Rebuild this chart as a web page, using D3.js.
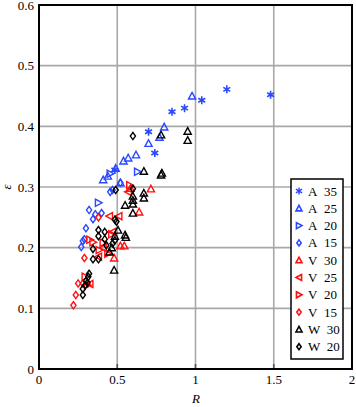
<!DOCTYPE html>
<html>
<head>
<meta charset="utf-8">
<script src="https://cdn.jsdelivr.net/npm/d3@7"></script>
<style>
  body { margin: 0; background: #fff; }
  text { font-family: "Liberation Serif", "DejaVu Serif", serif; }
</style>
</head>
<body>
<svg id="chart" width="356" height="407"></svg>
<script>
// ------------------- data ---------------------------------------------
var xTicks = [0, 0.5, 1, 1.5, 2];
var yTicks = [0, 0.1, 0.2, 0.3, 0.4, 0.5, 0.6];
var xTickLabels = ["0", "0.5", "1", "1.5", "2"];
var yTickLabels = ["0", "0.1", "0.2", "0.3", "0.4", "0.5", "0.6"];

var A35 = [[0.485,0.328],[0.70,0.391],[0.74,0.356],[0.85,0.424],[0.93,0.430],[1.04,0.443],[1.20,0.461],[1.48,0.452]];
var A25 = [[0.978,0.450],[0.80,0.399],[0.77,0.382],[0.70,0.372],[0.62,0.353],[0.57,0.348],[0.54,0.343],[0.49,0.331],[0.44,0.318],[0.41,0.312],[0.52,0.307]];
var A20 = [[0.38,0.274],[0.63,0.325],[0.455,0.322]];
var A15 = [[0.455,0.292],[0.47,0.295],[0.52,0.307],[0.32,0.262],[0.36,0.255],[0.40,0.257],[0.345,0.247],[0.30,0.232],[0.28,0.211],[0.27,0.201],[0.29,0.214]];
var V30 = [[0.715,0.297],[0.64,0.259],[0.545,0.203],[0.52,0.203],[0.48,0.183],[0.585,0.298]];
var V25 = [[0.57,0.292],[0.45,0.252],[0.51,0.252],[0.47,0.226],[0.41,0.2],[0.38,0.185],[0.325,0.14]];
var V20 = [[0.345,0.209],[0.325,0.213],[0.385,0.196],[0.44,0.19],[0.41,0.208],[0.465,0.222],[0.295,0.152],[0.31,0.138],[0.58,0.303]];
var V15 = [[0.38,0.25],[0.29,0.183],[0.22,0.105],[0.235,0.122],[0.25,0.141],[0.28,0.141]];
var W30 = [[0.95,0.392],[0.95,0.377],[0.78,0.386],[0.785,0.323],[0.78,0.32],[0.67,0.326],[0.60,0.272],[0.60,0.278],[0.60,0.285],[0.67,0.29],[0.67,0.282],[0.55,0.27],[0.60,0.257],[0.505,0.229],[0.55,0.221],[0.555,0.217],[0.485,0.219],[0.465,0.2],[0.45,0.193],[0.48,0.163]];
var W20 = [[0.60,0.384],[0.49,0.295],[0.60,0.297],[0.485,0.246],[0.495,0.243],[0.38,0.229],[0.38,0.219],[0.42,0.226],[0.42,0.214],[0.43,0.204],[0.485,0.212],[0.47,0.207],[0.345,0.198],[0.345,0.181],[0.38,0.181],[0.32,0.157],[0.315,0.152],[0.30,0.145],[0.295,0.138],[0.28,0.132],[0.28,0.122],[0.31,0.142]];

var blue = "#2a48ff", red = "#ff1010", black = "#000";

// series in legend order
var series = [
  {name: "A\u00a0\u00a035", data: A35, color: blue,  shape: "star"},
  {name: "A\u00a0\u00a025", data: A25, color: blue,  shape: "up"},
  {name: "A\u00a0\u00a020", data: A20, color: blue,  shape: "right"},
  {name: "A\u00a0\u00a015", data: A15, color: blue,  shape: "diamond"},
  {name: "V\u00a0\u00a030", data: V30, color: red,   shape: "up"},
  {name: "V\u00a0\u00a025", data: V25, color: red,   shape: "left"},
  {name: "V\u00a0\u00a020", data: V20, color: red,   shape: "right"},
  {name: "V\u00a0\u00a015", data: V15, color: red,   shape: "diamond"},
  {name: "W\u00a0\u00a030", data: W30, color: black, shape: "up"},
  {name: "W\u00a0\u00a020", data: W20, color: black, shape: "diamond"}
];

// ------------------- layout ------------------------
var svg = d3.select("#chart");
var plotLeft = 39, plotRight = 352, plotTop = 5, plotBottom = 369;

var x = d3.scaleLinear().domain([0, 2]).range([plotLeft, plotRight]);
var y = d3.scaleLinear().domain([0, 0.6]).range([plotBottom, plotTop]);

function shapePath(shape, s) {
  // s = half size
  if (shape == "up") return "M0," + (-s) + "L" + s + "," + (s*0.85) + "L" + (-s) + "," + (s*0.85) + "Z";
  if (shape == "right") return "M" + (-s*0.85) + "," + (-s) + "L" + s + ",0L" + (-s*0.85) + "," + s + "Z";
  if (shape == "left") return "M" + (s*0.85) + "," + (-s) + "L" + (-s) + ",0L" + (s*0.85) + "," + s + "Z";
  if (shape == "diamond") return "M0," + (-s) + "L" + (s*0.72) + ",0L0," + s + "L" + (-s*0.72) + ",0Z";
  // asterisk
  var p = "";
  [90, 30, 150].forEach(function(a) {
    var r = a * Math.PI / 180;
    var dx = Math.cos(r) * s, dy = Math.sin(r) * s;
    p += "M" + (-dx) + "," + (-dy) + "L" + dx + "," + dy;
  });
  return p;
}

// gridlines
svg.append("g").selectAll("line")
  .data(xTicks.slice(1, -1))
  .enter().append("line")
  .attr("x1", function(d) { return x(d); }).attr("x2", function(d) { return x(d); })
  .attr("y1", plotTop).attr("y2", plotBottom)
  .attr("stroke", "#a8a8a8").attr("stroke-width", 1.6);

svg.append("g").selectAll("line")
  .data(yTicks.slice(1, -1))
  .enter().append("line")
  .attr("x1", plotLeft).attr("x2", plotRight)
  .attr("y1", function(d) { return y(d); }).attr("y2", function(d) { return y(d); })
  .attr("stroke", "#a8a8a8").attr("stroke-width", 1.6);

// tick marks (inward)
svg.append("g").selectAll("line")
  .data(xTicks.slice(1, -1))
  .enter().append("line")
  .attr("x1", function(d) { return x(d); }).attr("x2", function(d) { return x(d); })
  .attr("y1", plotBottom).attr("y2", plotBottom - 5)
  .attr("stroke", "#555").attr("stroke-width", 1.6);

// frame
svg.append("rect")
  .attr("x", plotLeft).attr("y", plotTop)
  .attr("width", plotRight - plotLeft).attr("height", plotBottom - plotTop)
  .attr("fill", "none").attr("stroke", "black").attr("stroke-width", 2);

// tick labels
svg.append("g").selectAll("text")
  .data(xTicks)
  .enter().append("text")
  .attr("x", function(d) { return x(d); })
  .attr("y", 384)
  .attr("text-anchor", "middle")
  .attr("font-size", 13)
  .text(function(d, i) { return xTickLabels[i]; });

svg.append("g").selectAll("text")
  .data(yTicks)
  .enter().append("text")
  .attr("x", 34)
  .attr("y", function(d) { return y(d) + 4.5; })
  .attr("text-anchor", "end")
  .attr("font-size", 13)
  .text(function(d, i) { return yTickLabels[i]; });

// axis titles
svg.append("text")
  .attr("x", 196).attr("y", 403)
  .attr("text-anchor", "middle")
  .attr("font-size", 13).attr("font-style", "italic")
  .text("R");

svg.append("text")
  .attr("transform", "translate(11," + ((plotTop + plotBottom) / 2) + ") rotate(-90)")
  .attr("text-anchor", "middle")
  .attr("font-size", 13).attr("font-style", "italic")
  .text("\u03b5");

// points
var marks = svg.append("g");
series.forEach(function(s) {
  marks.append("g").selectAll("path")
    .data(s.data)
    .enter().append("path")
    .attr("transform", function(d) { return "translate(" + x(d[0]) + "," + y(d[1]) + ")"; })
    .attr("d", shapePath(s.shape, s.shape == "star" ? 4 : 3.6))
    .attr("fill", "none")
    .attr("stroke", s.color)
    .attr("stroke-width", s.shape == "star" ? 1.6 : 1.4);
});

// legend
var legend = svg.append("g");
legend.append("rect")
  .attr("x", 291).attr("y", 179)
  .attr("width", 52).attr("height", 180)
  .attr("fill", "white").attr("stroke", "black").attr("stroke-width", 1.5);

var item = legend.selectAll(".item")
  .data(series)
  .enter().append("g")
  .attr("class", "item")
  .attr("transform", function(d, i) { return "translate(0," + (191 + i * 17.3) + ")"; });

item.append("path")
  .attr("transform", "translate(299,0)")
  .attr("d", function(d) { return shapePath(d.shape, d.shape == "star" ? 3.6 : 3); })
  .attr("fill", "none")
  .attr("stroke", function(d) { return d.color; })
  .attr("stroke-width", function(d) { return d.shape == "star" ? 1.4 : 1.6; });

item.append("text")
  .attr("x", 308).attr("y", 4.5)
  .attr("font-size", 13)
  .text(function(d) { return d.name; });
</script>
</body>
</html>
